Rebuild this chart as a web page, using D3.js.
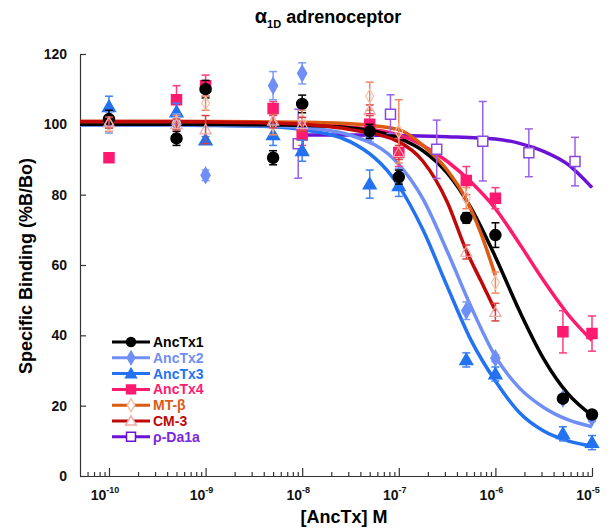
<!DOCTYPE html>
<html>
<head>
<meta charset="utf-8">
<script src="https://cdn.jsdelivr.net/npm/d3@7"></script>
<style>
  body { margin: 0; background: #fff; }
  text { font-family: Arial, "Liberation Sans", sans-serif; font-weight: bold; }
</style>
</head>
<body>
<div id="chart"></div>
<script>
// concentrations (M)
const conc = [1e-10, 5e-10, 1e-9, 5e-9, 1e-8, 5e-8, 1e-7, 5e-7, 1e-6, 5e-6, 1e-5];
const concShort = [1e-10, 5e-10, 1e-9, 5e-9, 1e-8, 5e-8, 1e-7, 5e-7, 1e-6];
const concRho = [9.1e-9, 8.2e-8, 2.47e-7, 7.4e-7, 2.22e-6, 6.67e-6];

// measured points, mean and error
const ancTx1Mean = [101.5, 96, 110, 90.5, 105.8, 98, 85, 73.4, 68.5, 22, 17.5];
const ancTx1Err = [2.5, 2, 2.5, 2, 2.5, 2, 2, 1.5, 3.5, 1, 1];
const ancTx2Mean = [100.5, 100, 85.5, 111, 114.5, 97, 85.5, 47, 33.5, 22, 16.5];
const ancTx2Err = [3, 3, 1.5, 4, 3, 2, 2, 2.5, 1, 1, 1];
const ancTx3Mean = [105, 103.5, 95.5, 97, 92.5, 83, 82.5, 33, 29, 12, 9.5];
const ancTx3Err = [3, 2.5, 1, 3, 3, 4, 3, 2, 2, 2, 2];
const ancTx4Mean = [90.5, 107, 111, 104.5, 97, 100, 92, 84, 79, 41, 40.5];
const ancTx4Err = [1, 4, 3, 2, 3, 3, 4, 4, 3, 6, 5];
const mtbMean = [100, 100.5, 106, 100, 101, 108, 98, 79, 55];
const mtbErr = [2, 2, 2, 3, 3, 4, 9, 3, 3];
const cm3Mean = [100.5, 100, 98.5, 101, 100, 104, 92, 63.7, 46.6];
const cm3Err = [1.5, 1.5, 4, 2, 2, 1.5, 2, 2, 2.5];
const rhoMean = [94.5, 102.9, 92.9, 95.2, 91.9, 89.4];
const rhoErr = [9.8, 5.5, 8.3, 11.3, 6.8, 6.9];

// fitted curves (log10 concentration, %B/Bo)
const fitLogX = [-10.3, -9.5, -9, -8.5, -8, -7.5, -7, -6.75, -6.5, -6.25, -6, -5.75, -5.5, -5.25, -5];
const fit1 = [100, 100, 99.98, 99.9, 99.74, 98.98, 96.07, 92.5, 86.2, 76.1, 62.3, 46.9, 33.3, 23.4, 17.2];
const fit2 = [99.8, 99.8, 99.77, 99.65, 99.1, 96.9, 88.6, 78.8, 64, 48, 34, 25, 19.5, 16, 14];
const fit3 = [99.8, 99.8, 99.7, 99.5, 98.5, 95, 82.5, 70, 54, 38.5, 27, 18, 12.8, 10, 8.5];
const fit4 = [100.5, 100.5, 100.4, 100.3, 100, 99.2, 97, 94, 89.5, 83.5, 76, 66, 55.5, 46, 38.5];
const fitShortLogX = [-10.3, -9.5, -9, -8.5, -8, -7.5, -7, -6.75, -6.5, -6.3, -6.15, -6];
const fitMtb = [100.8, 100.8, 100.8, 100.7, 100.6, 100.2, 98.5, 94, 87, 78.5, 69, 57];
const fitCm3 = [100.8, 100.8, 100.7, 100.5, 100, 98.5, 95, 89.5, 78, 64, 55.5, 47];
const fitRhoLogX = [-8.04, -7.5, -7, -6.5, -6, -5.75, -5.5, -5.25, -5];
const fitRho = [97, 97, 96.8, 96.5, 95.8, 94.6, 92.3, 88.6, 82];

const names = ["AncTx1", "AncTx2", "AncTx3", "AncTx4", "MT-β", "CM-3", "ρ-Da1a"];
const yTicks = [0, 20, 40, 60, 80, 100, 120];
const xDecades = [-10, -9, -8, -7, -6, -5];

const series = [
    {name: names[6], x: concRho, m: rhoMean, e: rhoErr, fx: fitRhoLogX, fy: fitRho,
     line: "#6a12d6", err: "#9a62e6", shape: "square", fill: "#fff", stroke: "#8a48e0", text: "#7a28dc"},
    {name: names[3], x: conc, m: ancTx4Mean, e: ancTx4Err, fx: fitLogX, fy: fit4,
     line: "#ff1a70", err: "#ff3a80", shape: "square", fill: "#ff1a70", stroke: "#ff1a70", text: "#ff1a70"},
    {name: names[2], x: conc, m: ancTx3Mean, e: ancTx3Err, fx: fitLogX, fy: fit3,
     line: "#2272f2", err: "#3c82f4", shape: "triangle", fill: "#2272f2", stroke: "#2272f2", text: "#2272f2"},
    {name: names[1], x: conc, m: ancTx2Mean, e: ancTx2Err, fx: fitLogX, fy: fit2,
     line: "#6f8ef6", err: "#7f9cf6", shape: "diamond", fill: "#6f8ef6", stroke: "#6f8ef6", text: "#6f8ef6"},
    {name: names[0], x: conc, m: ancTx1Mean, e: ancTx1Err, fx: fitLogX, fy: fit1,
     line: "#000", err: "#000", shape: "circle", fill: "#000", stroke: "#000", text: "#000"},
    {name: names[4], x: concShort, m: mtbMean, e: mtbErr, fx: fitShortLogX, fy: fitMtb,
     line: "#dc5a14", err: "#ec8a60", shape: "diamond", fill: "#fff", stroke: "#f6c0a8", text: "#dc5a14"},
    {name: names[5], x: concShort, m: cm3Mean, e: cm3Err, fx: fitShortLogX, fy: fitCm3,
     line: "#c00808", err: "#d84040", shape: "triangle", fill: "#fff", stroke: "#f2a8a8", text: "#c00808"}
];

const svg = d3.select("#chart").append("svg")
    .attr("width", 616)
    .attr("height", 531);

const x = d3.scaleLog().domain([Math.pow(10, -10.3), 1e-5]).range([80, 592]);
const y = d3.scaleLinear().domain([0, 120]).range([476, 54]);

// title
const title = svg.append("text")
    .attr("x", 328).attr("y", 23)
    .attr("text-anchor", "middle")
    .style("font-size", "18px");
title.append("tspan").style("font-size", "20px").text("α");
title.append("tspan").attr("dy", 5).style("font-size", "11px").text("1D");
title.append("tspan").attr("dy", -5).text(" adrenoceptor");

// axes
const yAxis = svg.append("g")
    .attr("transform", "translate(80,0)")
    .call(d3.axisLeft(y).tickValues(yTicks).tickSizeInner(-6).tickSizeOuter(0).tickPadding(13));
yAxis.selectAll("text").style("font-size", "14px").attr("fill", "#111");

const minor = [];
for (let d = -11; d <= -6; d++) {
    for (let k = 2; k <= 9; k++) {
        const v = k * Math.pow(10, d);
        if (v > x.domain()[0] && v < 1e-5) minor.push(v);
    }
}
svg.append("g")
    .attr("transform", "translate(0,476)")
    .call(d3.axisBottom(x).tickValues(minor).tickSizeInner(-4).tickSizeOuter(0).tickFormat(""));
svg.append("g")
    .attr("transform", "translate(0,476)")
    .call(d3.axisBottom(x).tickValues(xDecades.map(d => Math.pow(10, d))).tickSizeInner(-8).tickSizeOuter(0).tickFormat(""));

svg.selectAll(".domain, .tick line").attr("stroke", "#333").attr("stroke-width", 1.2);

xDecades.forEach(d => {
    const t = svg.append("text")
        .attr("x", x(Math.pow(10, d)) - 4)
        .attr("y", 500)
        .attr("text-anchor", "middle")
        .style("font-size", "14px")
        .attr("fill", "#111");
    t.append("tspan").text("10");
    t.append("tspan").attr("dy", -7).style("font-size", "9px").text(String(d));
});

// axis titles
svg.append("text")
    .attr("transform", "translate(32,266) rotate(-90)")
    .attr("text-anchor", "middle")
    .style("font-size", "18px")
    .text("Specific Binding (%B/Bo)");
svg.append("text")
    .attr("x", 344).attr("y", 523)
    .attr("text-anchor", "middle")
    .style("font-size", "18px")
    .text("[AncTx] M");

function marker(g, shape, cx, cy, s) {
    if (shape === "circle") {
        return g.append("circle").attr("cx", cx).attr("cy", cy).attr("r", s.r || 5.5);
    }
    const sym = {square: d3.symbolSquare, triangle: d3.symbolTriangle, diamond: d3.symbolDiamond}[shape];
    const size = {square: 100, triangle: 70, diamond: 70}[shape];
    return g.append("path")
        .attr("d", d3.symbol().type(sym).size(s.size || size)())
        .attr("transform", "translate(" + cx + "," + (shape === "triangle" ? cy + 1 : cy) + ")");
}

const line = d3.line()
    .x(d => x(Math.pow(10, d[0])))
    .y(d => y(d[1]))
    .curve(d3.curveMonotoneX);

// curves
series.forEach(s => {
    svg.append("path")
        .datum(s.fx.map((v, i) => [v, s.fy[i]]))
        .attr("d", line)
        .attr("fill", "none")
        .attr("stroke", s.line)
        .attr("stroke-width", 3.5);
});

// error bars and points
series.forEach(s => {
    const g = svg.append("g");
    const open = s.fill === "#fff" && s.shape !== "square";
    s.x.forEach((c, i) => {
        const cx = x(c), lo = y(s.m[i] - s.e[i]), hi = y(s.m[i] + s.e[i]);
        g.append("line").attr("x1", cx).attr("x2", cx).attr("y1", lo).attr("y2", hi)
            .attr("stroke", s.err).attr("stroke-width", 1.5);
        [lo, hi].forEach(yy => {
            g.append("line").attr("x1", cx - 4).attr("x2", cx + 4).attr("y1", yy).attr("y2", yy)
                .attr("stroke", s.err).attr("stroke-width", 1.5);
        });
        marker(g, s.shape, cx, y(s.m[i]), open ? {size: 55} : {})
            .attr("fill", s.fill)
            .attr("fill-opacity", open ? 0 : 1)
            .attr("stroke", s.stroke)
            .attr("stroke-width", open ? 1.2 : 1.5);
    });
});

// legend
const legendOrder = [4, 3, 2, 1, 5, 6, 0];
legendOrder.forEach((idx, row) => {
    const s = series[idx];
    const ly = 342 + row * 15.8;
    const open = s.fill === "#fff" && s.shape !== "square";
    svg.append("line").attr("x1", 112).attr("x2", 150).attr("y1", ly).attr("y2", ly)
        .attr("stroke", s.line).attr("stroke-width", 3);
    marker(svg, s.shape, 131, ly, {r: 4.5, size: s.shape === "square" ? 80 : 50})
        .attr("fill", open ? "#fff" : s.fill)
        .attr("stroke", s.shape === "square" && s.fill === "#fff" ? s.line : s.stroke)
        .attr("stroke-width", 1.5);
    svg.append("text")
        .attr("x", 153).attr("y", ly + 5)
        .style("font-size", "14px")
        .attr("fill", s.text)
        .text(s.name);
});
</script>
</body>
</html>
